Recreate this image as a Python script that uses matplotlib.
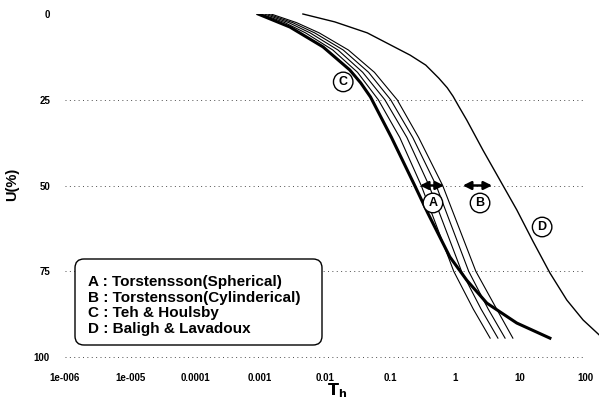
import numpy as np
import matplotlib
matplotlib.use("Agg")
import matplotlib.pyplot as plt
from matplotlib.patches import FancyBboxPatch
from matplotlib.transforms import IdentityTransform

plt.rcParams['font.family'] = ['Liberation Sans', 'DejaVu Sans']

# ---- data (log10 of T_h, U in %) ----
# C : Teh & Houlsby (thick)
c_logt = [-3.03, -2.54, -2.03, -1.62, -1.45, -1.30, -0.98, -0.62, -0.42, -0.08, 0.18, 0.49, 0.95, 1.46]
c_u = [0, 3.8, 9.6, 16.3, 20.1, 24.2, 35.9, 50, 58, 70.8, 77.6, 84.3, 90.1, 94.5]

# A/B : Torstensson family (thin lines)
ab_u = [0, 2.5, 5.5, 10.5, 17, 25, 36, 50, 75, 86, 94.5]
ab_logt = [
    [-2.98, -2.62, -2.30, -1.88, -1.50, -1.18, -0.85, -0.52, -0.02, 0.28, 0.54],
    [-2.93, -2.56, -2.23, -1.80, -1.42, -1.08, -0.74, -0.40, 0.10, 0.40, 0.66],
    [-2.88, -2.50, -2.16, -1.72, -1.33, -0.99, -0.65, -0.29, 0.21, 0.51, 0.77],
    [-2.83, -2.44, -2.09, -1.64, -1.24, -0.89, -0.56, -0.19, 0.32, 0.64, 0.89],
]

# D : Baligh & Lavadoux
d_logt = [-2.34, -1.85, -1.35, -0.69, -0.45, -0.25, -0.12, -0.03, 0.06, 0.18, 0.43,
          0.69, 0.95, 1.20, 1.46, 1.72, 1.97, 2.22]
d_u = [0, 2.3, 5.5, 12, 14.9, 18.7, 21.5, 24.0, 27.0, 30.9, 39.7,
       48.4, 57.1, 66.3, 75.5, 83.4, 89.2, 93.6]

x_ticks = [1e-6, 1e-5, 1e-4, 1e-3, 1e-2, 1e-1, 1, 10, 100]
x_labels = ["1e-006", "1e-005", "0.0001", "0.001", "0.01", "0.1", "1", "10", "100"]
y_ticks = [0, 25, 50, 75, 100]

legend_lines = ["A : Torstensson(Spherical)",
                "B : Torstensson(Cylinderical)",
                "C : Teh & Houlsby",
                "D : Baligh & Lavadoux"]

# circled labels (log10 T, U) and range arrows at U = 50
marks = {"A": (-0.34, 55.1), "B": (0.385, 55.1), "C": (-1.72, 19.8), "D": (1.34, 62.1)}
arrows = [(-0.54, -0.17), (0.12, 0.57)]

W, H = 599, 403
fig = plt.figure(figsize=(W / 100, H / 100), dpi=100)
ax = fig.add_axes([65 / W, (H - 357) / H, (W - 65) / W, (357 - 14) / H])
ax.set_xscale('log')
ax.set_xlim(1e-6, 10 ** 2.215)
ax.set_ylim(100, 0)

for s in ax.spines.values():
    s.set_visible(False)

# dotted gridlines
for u in y_ticks[1:]:
    ax.hlines(u, 1e-6, 100, colors='0.3', linestyles=(0, (1, 3.5)), linewidth=0.7,
              zorder=1, clip_on=False)

for lt in ab_logt:
    ax.plot(10 ** np.array(lt), ab_u, color='black', lw=0.8, zorder=3)
ax.plot(10 ** np.array(c_logt), c_u, color='black', lw=2.2, zorder=4,
        solid_joinstyle='round')
ax.plot(10 ** np.array(d_logt), d_u, color='black', lw=1.0, zorder=3, clip_on=False)

for x0, x1 in arrows:
    ax.annotate("", xy=(10 ** x1, 50), xytext=(10 ** x0, 50),
                arrowprops=dict(arrowstyle='<|-|>', color='black', lw=1.8,
                                mutation_scale=12, shrinkA=0, shrinkB=0), zorder=5)

for lab, (lx, ly) in marks.items():
    ax.text(10 ** lx, ly, lab, ha='center', va='center', fontsize=9, fontweight='bold',
            bbox=dict(boxstyle='circle,pad=0.3', fc='white', ec='black', lw=1.0), zorder=6)

ax.set_xticks(x_ticks)
ax.set_xticklabels(x_labels)
ax.minorticks_off()
ax.set_yticks(y_ticks)
ax.tick_params(axis='both', length=0, labelsize=7)
ax.tick_params(axis='x', pad=11.5)
ax.tick_params(axis='y', pad=10.8)
for t in ax.get_xticklabels() + ax.get_yticklabels():
    t.set_fontweight('bold')

fig.text(12 / W, 1 - 184 / H, "U(%)", rotation=90, ha='center', va='center',
         fontsize=10.5, fontweight='bold')
fig.text(337 / W, 1 - 391 / H, r"$\mathbf{T_h}$", ha='center', va='center', fontsize=11.5)

# legend box (pixel coordinates, origin bottom-left)
box = FancyBboxPatch((75, H - 345), 247, 86, boxstyle='round,pad=0,rounding_size=9',
                     transform=IdentityTransform(), fc='white', ec='black', lw=1.0, zorder=5)
fig.patches.append(box)
for i, line in enumerate(legend_lines):
    fig.text(88 / W, 1 - (282 + 15.7 * i) / H, line, ha='left', va='center',
             fontsize=11, fontweight='bold', zorder=6)

fig.savefig("out.png", dpi=100)
